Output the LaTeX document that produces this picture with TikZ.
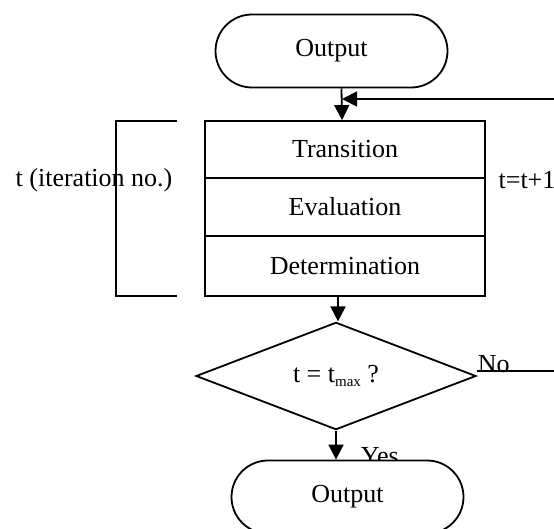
\documentclass[tikz,border=0pt]{standalone}
\usepackage{fontspec}
\setmainfont{Liberation Serif}
\usepackage{tikz}
\usetikzlibrary{arrows.meta}
\usetikzlibrary{shapes.geometric}
\usetikzlibrary{shapes.misc}
\tikzstyle{flow}=[x=1pt, y=-1pt, line width=1.8pt, font=\fontsize{26}{30}\selectfont]
\tikzstyle{term}=[rounded rectangle, draw, fill=white, minimum width=232pt, minimum height=73pt, inner sep=0pt]
\tikzstyle{stage}=[rectangle, draw, minimum width=280pt, inner sep=0pt]
\tikzstyle{test}=[diamond, draw, minimum width=280pt, minimum height=94pt, inner sep=0pt]
\tikzstyle{lbl}=[inner sep=0pt]
\tikzstyle{edge}=[-{Triangle[length=15pt, width=15pt]}]
\tikzstyle{wedge}=[-]

\begin{document}
\begin{tikzpicture}[flow]
	\useasboundingbox (0,0) rectangle (554,529);

	%The start
	\draw (331.5,51) node[term] (out1) {Output};

	%The loop body
	\draw (345,149.5) node[stage, minimum height=57pt] (trans) {Transition};
	\draw (345,207) node[stage, minimum height=58pt] (eval) {Evaluation};
	\draw (345,266) node[stage, minimum height=60pt] (det) {Determination};

	%The test
	\draw (336,376) node[test] (dec) {t = t\raisebox{-4pt}{\fontsize{15}{15}\selectfont max} ?};
	\draw (360,464) node[lbl, anchor=base west] (yes) {Yes};
	\draw (347.5,497) node[term] (out2) {Output};
	\draw (477,372) node[lbl, anchor=base west] (no) {No};

	%The labels
	\draw (94,180) node[lbl] (iter) {t (iteration no.)};
	\draw (527,180) node[lbl] (incr) {t=t+1};
	\coordinate (fb) at (342,99);

	\draw[edge] ([xshift=10]out1.south) -- (fb |- trans.north);
	\draw[edge] ([xshift=2]dec.north |- det.south) -- ([xshift=2]dec.north);
	\draw[edge] (dec.south) -- (dec.south |- out2.north);
	\draw[edge] ([yshift=5]dec.east) -- ++(100,0) |- (fb);

	%The bracket
	\draw[wedge] (177,121) -- (116,121) -- (116,296) -- (177,296);
\end{tikzpicture}
\end{document}
